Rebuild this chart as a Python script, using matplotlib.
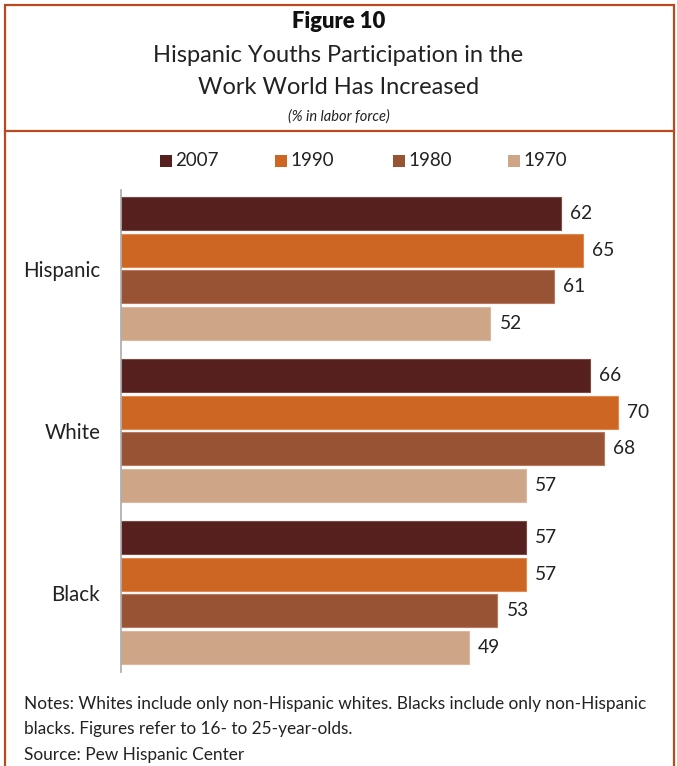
import matplotlib
matplotlib.use("Agg")
import matplotlib.pyplot as plt
from matplotlib.patches import Rectangle
from matplotlib.lines import Line2D
import numpy as np

plt.rcParams['font.family'] = ['Lato', 'DejaVu Sans']

groups = ["Hispanic", "White", "Black"]
years = ["2007", "1990", "1980", "1970"]
v2007 = [62, 66, 57]
v1990 = [65, 70, 57]
v1980 = [61, 68, 53]
v1970 = [52, 57, 49]
series = [v2007, v1990, v1980, v1970]
colors = ["#56201E", "#CD6623", "#985334", "#CEA687"]
edges = ["#7a4a45", "#e08a50", "#b77a5e", "#dbb9a0"]

W, H = 677, 766
fig = plt.figure(figsize=(W/100, H/100), dpi=100)

def fx(px): return px / W
def fy(py): return 1 - py / H

border = "#BA4A1E"
# frame
fig.add_artist(Rectangle((fx(5), fy(768)), fx(669), (763) / H, transform=fig.transFigure,
                         fill=False, edgecolor=border, linewidth=1.6))
fig.add_artist(Line2D([fx(5), fx(674)], [fy(131), fy(131)], transform=fig.transFigure,
                      color=border, linewidth=1.6))

# titles
fig.text(0.5, fy(22), "Figure 10", ha="center", va="center", fontsize=15.8, fontweight="heavy", color="#111111")
fig.text(0.5, fy(55), "Hispanic Youths Participation in the", ha="center", va="center", fontsize=17, color="#222222")
fig.text(0.5, fy(87), "Work World Has Increased", ha="center", va="center", fontsize=17, color="#222222")
fig.text(0.5, fy(117), "(% in labor force)", ha="center", va="center", fontsize=10.5, style="italic", color="#222222")

# axes
left_px, right_px = 121, 650
top_px, bot_px = 190, 672
ax = fig.add_axes([fx(left_px), fy(bot_px), fx(right_px - left_px), (bot_px - top_px) / H])
scale = 7.1
ax.set_xlim(0, (right_px - left_px) / scale)
ax.set_ylim(2.49, -0.485)

pitch = 36.5 / 162
bh = 33 / 162
ypos = np.arange(len(groups))
for i, (vals, c, ec, yr) in enumerate(zip(series, colors, edges, years)):
    off = (i - 1.5) * pitch
    bars = ax.barh(ypos + off, vals, height=bh, color=c, edgecolor=ec, linewidth=0.8, label=yr)
    for b, v in zip(bars, vals):
        ax.text(v + 1.3, b.get_y() + b.get_height() / 2, str(v), va="center", ha="left",
                fontsize=13.8, color="#222222")

ax.set_yticks(ypos)
ax.set_yticklabels(groups, fontsize=14.8, color="#222222")
ax.tick_params(axis="y", length=0, pad=15)
ax.set_xticks([])
for s in ["top", "right", "bottom"]:
    ax.spines[s].set_visible(False)
ax.spines["left"].set_color("#aaaaaa")
ax.spines["left"].set_linewidth(1.2)

# legend
leg_x = [160, 275, 393, 508]
for x, c, yr in zip(leg_x, colors, years):
    fig.add_artist(Rectangle((fx(x), fy(167)), fx(12), 12 / H, transform=fig.transFigure,
                             facecolor=c, edgecolor="none"))
    fig.text(fx(x + 15), fy(161), yr, ha="left", va="center", fontsize=13.5, color="#222222")

# notes
fs_note = 12.4
fig.text(fx(24), fy(704), "Notes: Whites include only non-Hispanic whites. Blacks include only non-Hispanic",
         ha="left", va="center", fontsize=fs_note, color="#222222")
fig.text(fx(24), fy(729), "blacks. Figures refer to 16- to 25-year-olds.",
         ha="left", va="center", fontsize=fs_note, color="#222222")
fig.text(fx(24), fy(755), "Source: Pew Hispanic Center",
         ha="left", va="center", fontsize=fs_note, color="#222222")

fig.savefig("out.png", dpi=100)
